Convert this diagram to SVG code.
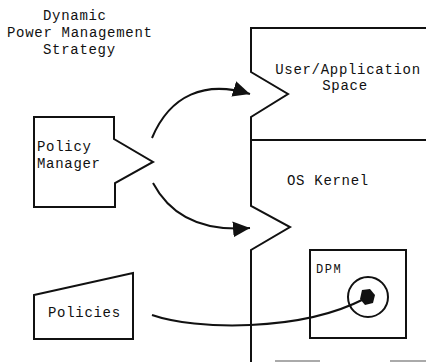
<svg xmlns="http://www.w3.org/2000/svg" width="426" height="362" viewBox="0 0 426 362">
<style>
.t{font-family:"Liberation Mono","Courier New",monospace;font-size:14px;letter-spacing:0.7px;fill:#111}
.s{fill:none;stroke:#111;stroke-width:2;stroke-linejoin:miter}
.c{fill:none;stroke:#111;stroke-width:2}
</style>
<defs>
<marker id="ah" markerUnits="userSpaceOnUse" markerWidth="20" markerHeight="20" refX="17" refY="8" orient="auto" viewBox="0 0 20 16">
<path d="M0,0 L17,8 L0,16 Z" fill="#111"/>
</marker>
</defs>
<rect width="426" height="362" fill="#fff"/>
<g id="title">
<text class="t" x="43" y="20">Dynamic</text>
<text class="t" x="7" y="37">Power Management</text>
<text class="t" x="43" y="54">Strategy</text>
</g>
<g id="user-space">
<path class="s" d="M426,28 L251,28 L251,72 L288,94 L251,117 L251,140 L426,140"/>
<text class="t" x="348" y="74" text-anchor="middle">User/Application</text>
<text class="t" x="345" y="90" text-anchor="middle">Space</text>
</g>
<g id="os-kernel">
<path class="s" d="M251,140 L251,206 L290,227 L251,250 L251,362"/>
<text class="t" x="287" y="185">OS Kernel</text>
</g>
<g id="dpm">
<rect class="s" x="310" y="250" width="96" height="88"/>
<text class="t" x="316" y="273" style="font-size:12px;letter-spacing:1.5px">DPM</text>
<circle cx="368" cy="297" r="20" class="s"/>
<path d="M362,290 L370,289 L375,295 L373,303 L365,305 L360,299 Z" fill="#111"/>
</g>
<g id="policy-manager">
<path class="s" d="M34,117 L114,117 L114,139 L153,162 L115,183 L115,207 L34,207 Z"/>
<text class="t" x="37" y="151">Policy</text>
<text class="t" x="37" y="168">Manager</text>
</g>
<g id="policies">
<path class="s" d="M34,295 L133,273 L133,339 L34,339 Z"/>
<text class="t" x="48" y="317">Policies</text>
</g>
<g id="bottom-box">
<path d="M275,361 L320,361 M390,361 L426,361" stroke="#aaa" stroke-width="2" fill="none"/>
</g>
<g id="connectors">
<path class="c" d="M152,138 C170,95 205,80 250,94" marker-end="url(#ah)"/>
<path class="c" d="M153,183 C170,215 200,232 250,228" marker-end="url(#ah)"/>
<path class="c" d="M152,315 C195,330 300,332 364,299"/>
</g>
</svg>
